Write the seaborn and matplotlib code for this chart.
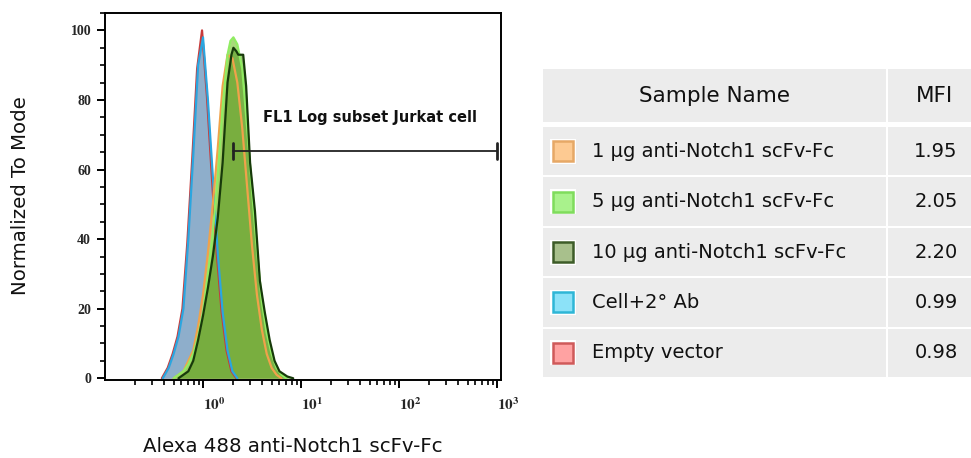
import numpy as np
import pandas as pd
import matplotlib
matplotlib.use("Agg")
import matplotlib.pyplot as plt
import seaborn as sns
from matplotlib.patches import Rectangle
from matplotlib.ticker import FixedLocator, MultipleLocator, FuncFormatter, NullFormatter

# histogram outlines: log10(FL1) position and % of mode
empty_log = [-0.42, -0.40, -0.36, -0.31, -0.26, -0.21, -0.16, -0.11, -0.06, -0.01, 0.04, 0.09, 0.14, 0.19, 0.24, 0.29, 0.34]
empty_pct = [0, 1, 3, 7, 12, 20, 39, 63, 89, 100, 81, 58, 36, 19, 8, 2, 0]

cell_log = [-0.41, -0.39, -0.35, -0.30, -0.25, -0.20, -0.15, -0.10, -0.05, 0.00, 0.05, 0.10, 0.15, 0.20, 0.25, 0.30, 0.35]
cell_pct = [0, 1, 3, 7, 12, 20, 40, 64, 90, 98, 80, 58, 36, 19, 8, 2, 0]

ug1_log = [-0.30, -0.20, -0.10, -0.05, 0.00, 0.05, 0.10, 0.15, 0.20, 0.25, 0.30, 0.35, 0.40, 0.45, 0.50, 0.55, 0.60, 0.65, 0.70, 0.75, 0.80]
ug1_pct = [0, 2, 8, 15, 24, 36, 50, 66, 84, 93, 92, 85, 72, 55, 38, 24, 14, 7, 3, 1, 0]

ug5_log = [-0.30, -0.25, -0.20, -0.15, -0.10, -0.05, 0.00, 0.05, 0.10, 0.15, 0.20, 0.25, 0.28, 0.31, 0.35, 0.40, 0.45, 0.50, 0.55, 0.60, 0.65, 0.70, 0.75, 0.80, 0.85]
ug5_pct = [0, 1, 2, 4, 7, 12, 19, 30, 42, 58, 78, 93, 97, 98, 96, 89, 72, 54, 37, 22, 13, 7, 3, 1, 0]

ug10_log = [-0.25, -0.20, -0.15, -0.10, -0.05, 0.00, 0.05, 0.10, 0.15, 0.20, 0.25, 0.29, 0.31, 0.34, 0.36, 0.38, 0.41, 0.44, 0.48, 0.53, 0.58, 0.63, 0.68, 0.73, 0.78, 0.86, 0.92]
ug10_pct = [0, 1, 2, 5, 11, 18, 26, 35, 46, 62, 85, 93, 95, 94, 93, 93, 93, 84, 62, 48, 28, 19, 11, 5, 2, 0.5, 0]

# gate
gate_lo, gate_hi, gate_y = 2.0, 1000, 65.3
gate_label = "FL1 Log subset Jurkat cell"

samples = ["1 µg anti-Notch1 scFv-Fc", "5 µg anti-Notch1 scFv-Fc",
           "10 µg anti-Notch1 scFv-Fc", "Cell+2° Ab", "Empty vector"]
mfi = ["1.95", "2.05", "2.20", "0.99", "0.98"]

sns.set_theme(style="white")
plt.rcParams['font.family'] = ['DejaVu Sans']
plt.rcParams['mathtext.fontset'] = 'stix'

fig = plt.figure(figsize=(9.71, 4.58), dpi=100)
ax = fig.add_axes([105 / 971, 78 / 458, 396 / 971, 367 / 458])

# (log, pct, line colour, fill colour, fill alpha)
curves = [
    (empty_log, empty_pct, "#c83a3a", "#e59a9a", 0.9),
    (cell_log, cell_pct, "#2aa6e0", "#8eaecb", 1.0),
    (ug1_log, ug1_pct, "#f0a24a", "#e7b27a", 0.8),
    (ug5_log, ug5_pct, "#90ec62", "#92d05a", 0.8),
    (ug10_log, ug10_pct, "#173a0a", "#629e2c", 0.65),
]
for lg, pct, lc, fc, a in curves:
    df = pd.DataFrame({"fl1": 10 ** np.array(lg), "pct": pct})
    ax.fill_between(df["fl1"], df["pct"], color=fc, alpha=a, lw=0)
    sns.lineplot(data=df, x="fl1", y="pct", ax=ax, color=lc, lw=1.6, sort=False)

ax.set_xscale("log")
ax.set_xlim(10 ** -1.0, 10 ** 3.04)
ax.set_ylim(-0.5, 105)

# gate bar
ax.plot([gate_lo, gate_hi], [gate_y, gate_y], color="#222222", lw=1.3)
for gx in (gate_lo, gate_hi):
    ax.plot([gx, gx], [gate_y - 2.2, gate_y + 2.2], color="#222222", lw=2)
ax.text(4.1, 75, gate_label, fontsize=10.5, fontweight="semibold", ha="left", va="center", color="#111111")

for s in ax.spines.values():
    s.set_color("black")
    s.set_linewidth(1.4)
ax.xaxis.set_major_locator(FixedLocator([1, 10, 100, 1000]))
ax.xaxis.set_major_formatter(FuncFormatter(lambda v, p: r"$\mathbf{10^{%d}}$" % round(np.log10(v))))
ax.xaxis.set_minor_locator(FixedLocator([m * 10.0 ** e for e in range(-1, 3) for m in range(2, 10)]))
ax.xaxis.set_minor_formatter(NullFormatter())
ax.yaxis.set_major_locator(MultipleLocator(20))
ax.yaxis.set_minor_locator(MultipleLocator(5))
ax.tick_params(axis="both", which="major", direction="out", length=6, width=1.4, color="black",
               bottom=True, left=True, labelsize=11)
ax.tick_params(axis="both", which="minor", direction="out", length=3.5, width=1.2, color="black",
               bottom=True, left=True)
ax.tick_params(axis="x", pad=6)
ax.tick_params(axis="y", pad=4)
for lab in ax.get_xticklabels():
    lab.set_ha("left")
for lab in ax.get_yticklabels():
    lab.set_family("Liberation Serif")
    lab.set_fontweight("bold")
    lab.set_fontsize(10)
ax.set_xlabel("")
ax.set_ylabel("")
fig.text(293 / 971, 1 - 447 / 458, "Alexa 488 anti-Notch1 scFv-Fc", fontsize=14.2, ha="center", va="center", color="#111111")
fig.text(20 / 971, 1 - 196 / 458, "Normalized To Mode", fontsize=14.2, rotation=90, ha="center", va="center", color="#111111")

# sample table drawn in pixel coordinates
tab = fig.add_axes([0, 0, 1, 1], zorder=-1)
tab.set_xlim(0, 971)
tab.set_ylim(458, 0)
tab.axis("off")
cell_bg = "#ececec"
x0, xdiv, x1 = 543, 886, 971
tab.add_patch(Rectangle((x0, 69), xdiv - x0, 53, color=cell_bg, lw=0))
tab.add_patch(Rectangle((xdiv + 2, 69), x1 - xdiv - 2, 53, color=cell_bg, lw=0))
tab.text((x0 + xdiv) / 2, 96, "Sample Name", fontsize=15.5, ha="center", va="center", color="#111111")
tab.text(935, 96, "MFI", fontsize=15.5, ha="center", va="center", color="#111111")

sw_fill = ["#fdca92", "#a9f28c", "#a8c08c", "#8ce2f8", "#ffa2a2"]
sw_edge = ["#e6a866", "#7fdc5c", "#3d5c28", "#2eb6d6", "#cf5a5a"]
row_top, row_h = 127, 50.4
for i, (name, val) in enumerate(zip(samples, mfi)):
    top = row_top + i * row_h
    tab.add_patch(Rectangle((x0, top), xdiv - x0, row_h - 2, color=cell_bg, lw=0))
    tab.add_patch(Rectangle((xdiv + 2, top), x1 - xdiv - 2, row_h - 2, color=cell_bg, lw=0))
    cy = top + row_h / 2 - 1
    tab.add_patch(Rectangle((550, cy - 12.5), 26, 25, color="white", lw=0))
    tab.add_patch(Rectangle((553, cy - 10), 20, 20, facecolor=sw_fill[i], edgecolor=sw_edge[i], lw=1.8))
    tab.text(592, cy, name, fontsize=14, ha="left", va="center", color="#111111")
    tab.text(936, cy, val, fontsize=14, ha="center", va="center", color="#111111")

fig.savefig("out.png", dpi=100)
